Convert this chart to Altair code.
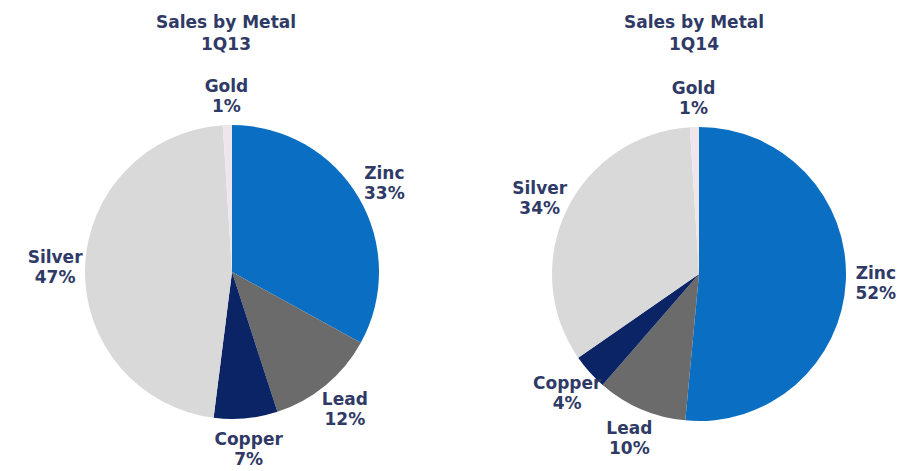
import altair as alt
import pandas as pd

metals = ["Zinc", "Lead", "Copper", "Silver", "Gold"]
share_1q13 = [33, 12, 7, 47, 1]
share_1q14 = [52, 10, 4, 34, 1]
quarters = ["1Q13", "1Q14"]
title_text = "Sales by Metal"
colors = ["#0A6FC2", "#6B6B6B", "#0B2465", "#D9D9D9", "#EEE6EA"]

rows = []
for q, vals in zip(quarters, [share_1q13, share_1q14]):
    for i, (m, v) in enumerate(zip(metals, vals)):
        rows.append({"quarter": q, "metal": m, "share": v, "idx": i,
                     "label": f"{m}\n{v}%"})
df = pd.DataFrame(rows)

titles = pd.DataFrame({"quarter": quarters,
                       "title": [f"{title_text}\n{q}" for q in quarters]})

centers = {"1Q13": (232, 272), "1Q14": (699, 274)}
title_x = {"1Q13": 226, "1Q14": 694}
text_color = "#2F3A66"
font = "DejaVu Sans"

color_enc = alt.Color("metal:N", scale=alt.Scale(domain=metals, range=colors), legend=None)

layers = []
for q in quarters:
    cx, cy = centers[q]
    base = alt.Chart(df).transform_filter(alt.datum.quarter == q).encode(
        theta=alt.Theta("share:Q", stack=True),
        order=alt.Order("idx:Q", sort="ascending"),
    )
    arc = base.mark_arc(radius=147).encode(
        color=color_enc, x=alt.value(cx), y=alt.value(cy)
    )
    txt = base.mark_text(
        radius=177, fontSize=17, fontWeight="bold", font=font, color=text_color,
        lineBreak="\n", align="center", baseline="middle", lineHeight=20, dy=-8,
    ).encode(text="label:N", x=alt.value(cx), y=alt.value(cy))
    ttl = alt.Chart(titles).transform_filter(alt.datum.quarter == q).mark_text(
        fontSize=17, fontWeight="bold", font=font, color=text_color,
        lineBreak="\n", align="center", baseline="middle", lineHeight=22,
    ).encode(text="title:N", x=alt.value(title_x[q]), y=alt.value(23))
    layers += [arc, txt, ttl]

chart = alt.layer(*layers).resolve_scale(theta="independent").properties(
    width=900, height=471, autosize=alt.AutoSizeParams(type="none"), padding=0,
    background="white",
).configure_view(stroke=None)

chart.save("out.html", embed_options={"renderer": "svg", "actions": False})
